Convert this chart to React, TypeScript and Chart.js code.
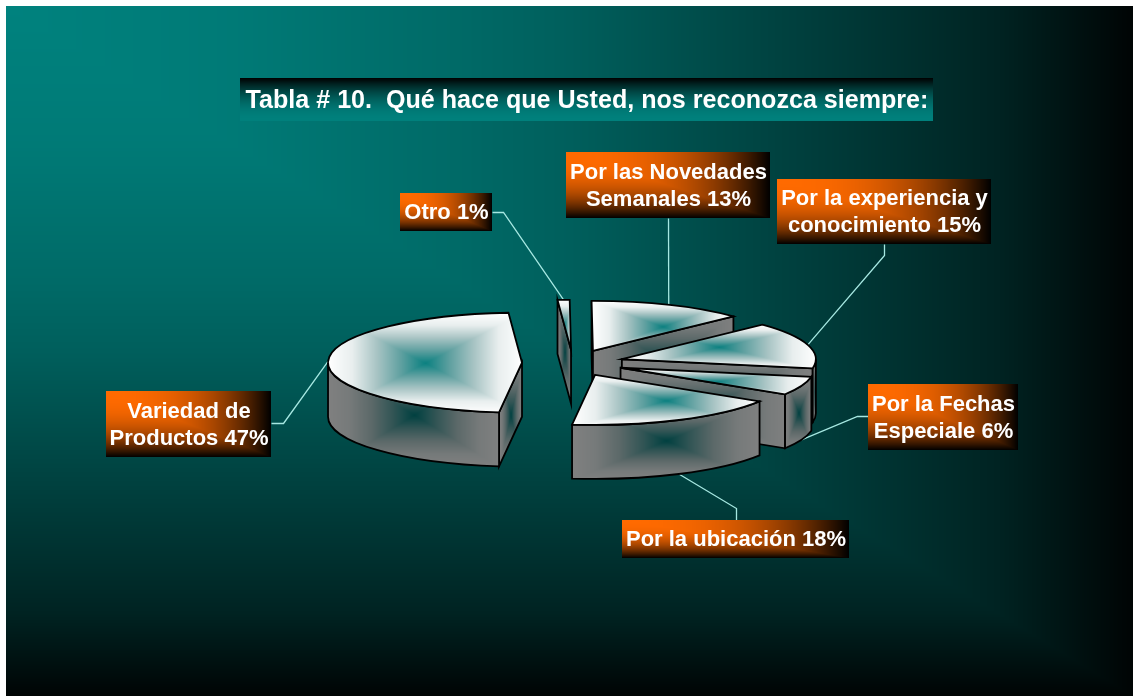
import React, { useEffect, useRef } from "react";
import { Chart, registerables } from "chart.js";

Chart.register(...registerables);

// Survey answers, clockwise from the front edge of the largest slice.
const categoryLines = [
  ["Variedad de", "Productos"],
  ["Otro"],
  ["Por las Novedades", "Semanales"],
  ["Por la experiencia y", "conocimiento"],
  ["Por la Fechas", "Especiale"],
  ["Por la ubicación"],
];
const shares = [47, 1, 13, 15, 6, 18];
const chartTitle = "Tabla # 10.  Qué hace que Usted, nos reconozca siempre:";

// Drawing parameters of the extruded pie.
const WIDTH = 1133;
const HEIGHT = 696;
const FRAME = 6;
const SQUASH = 0.258;
const DEPTH = 54;
const LABEL_FONT = 'bold 22px "Liberation Sans"';
const TITLE_FONT = 'bold 25.1px "Liberation Sans"';

// Callout boxes in canvas pixels: x0, y0, x1, y1, then the leader's attachment and elbow.
const callouts = [
  { box: [106, 391, 271, 457], from: [271, 423], elbow: [283, 423] },
  { box: [400, 193, 492, 231], from: [492, 212], elbow: [503, 212] },
  { box: [566, 152, 770, 218], from: [668, 218], elbow: null },
  { box: [777, 179, 991, 244], from: [884, 244], elbow: [884, 255] },
  { box: [868, 384, 1018, 450], from: [868, 416], elbow: [857, 416] },
  { box: [622, 520, 849, 558], from: [736, 520], elbow: [736, 508] },
];

type RGB = [number, number, number];
const lerp = (a: RGB, b: RGB, t: number) =>
  [0, 1, 2].map((i) => a[i] + (b[i] - a[i]) * t);

// Renders a colour field to an offscreen canvas, pixel by pixel.
function makeField(w: number, h: number, shade: (u: number, v: number) => number[]) {
  const c = document.createElement("canvas");
  c.width = Math.max(1, Math.ceil(w));
  c.height = Math.max(1, Math.ceil(h));
  const g = c.getContext("2d")!;
  const img = g.createImageData(c.width, c.height);
  for (let y = 0; y < c.height; y++) {
    for (let x = 0; x < c.width; x++) {
      const col = shade((x + 0.5) / c.width, (y + 0.5) / c.height);
      const o = (y * c.width + x) * 4;
      img.data[o] = col[0];
      img.data[o + 1] = col[1];
      img.data[o + 2] = col[2];
      img.data[o + 3] = 255;
    }
  }
  g.putImageData(img, 0, 0);
  return c;
}

// Gradient from one corner: full colour at top-left, black along right and bottom.
const cornerFade = (col: RGB, power: number) => (u: number, v: number) => {
  const t = Math.max(u, v);
  return lerp(col, [0, 0, 0], Math.pow(t, power));
};

// Page backdrop ramp: position along the corner fade, then the teal level there.
const BACKDROP_STOPS = [
  [0, 130],
  [0.2, 122],
  [0.4, 106],
  [0.5, 95],
  [0.66, 70],
  [0.8, 48],
  [0.88, 35],
  [0.94, 20],
  [1, 4],
];

function backdropShade(u: number, v: number) {
  const t = Math.max(u, v);
  for (let i = 1; i < BACKDROP_STOPS.length; i++) {
    const [t0, l0] = BACKDROP_STOPS[i - 1];
    const [t1, l1] = BACKDROP_STOPS[i];
    if (t <= t1) {
      const level = l0 + ((l1 - l0) * (t - t0)) / (t1 - t0);
      return [0, level, level * 0.97];
    }
  }
  return [0, 4, 4];
}

// Colour ramps for the box gradients, from the middle of a face to its edge.
const TOP_RAMP: RGB[] = [
  [10, 128, 128],
  [95, 160, 160],
  [168, 196, 196],
  [232, 238, 238],
  [255, 255, 255],
];
const SIDE_RAMP: RGB[] = [
  [0, 64, 64],
  [50, 85, 85],
  [92, 105, 105],
  [118, 122, 122],
  [128, 128, 128],
];

const sampleRamp = (ramp: RGB[], t: number) => {
  const pos = Math.min(0.9999, t) * (ramp.length - 1);
  const i = Math.floor(pos);
  return lerp(ramp[i], ramp[i + 1], pos - i);
};

// Rectangular gradient radiating from the middle of a bounding box.
function boxPattern(ctx: CanvasRenderingContext2D, b: number[], ramp: RGB[]) {
  const [x0, y0, x1, y1] = b;
  const field = makeField(x1 - x0 + 1, y1 - y0 + 1, (u, v) =>
    sampleRamp(ramp, Math.max(Math.abs(u - 0.5), Math.abs(v - 0.5)) * 2)
  );
  const p = ctx.createPattern(field, "no-repeat")!;
  p.setTransform(new DOMMatrix().translate(x0, y0));
  return p;
}

function boundsOf(points: number[][]) {
  const xs = points.map((p) => p[0]);
  const ys = points.map((p) => p[1]);
  return [Math.min(...xs), Math.min(...ys), Math.max(...xs), Math.max(...ys)];
}

// Geometry of an arc element once flattened into the tilted view.
function flatten(arc: any) {
  const mid = (arc.startAngle + arc.endAngle) / 2;
  const shift = (arc.options.offset || 0) / 4;
  const ax = arc.x + Math.cos(mid) * shift;
  const ay = arc.y + Math.sin(mid) * shift * SQUASH;
  const rx = arc.outerRadius;
  const ry = arc.outerRadius * SQUASH;
  const at = (a: number) => [ax + Math.cos(a) * rx, ay + Math.sin(a) * ry];
  return { mid, ax, ay, rx, ry, at, start: arc.startAngle, end: arc.endAngle };
}

function paintFace(
  ctx: CanvasRenderingContext2D,
  trace: () => void,
  bounds: number[],
  ramp: RGB[]
) {
  ctx.beginPath();
  trace();
  ctx.closePath();
  ctx.fillStyle = boxPattern(ctx, bounds, ramp);
  ctx.fill();
  ctx.strokeStyle = "#000";
  ctx.lineWidth = 1.8;
  ctx.lineJoin = "miter";
  ctx.stroke();
}

function drawRadialFace(ctx: CanvasRenderingContext2D, g: any, a: number) {
  const p = g.at(a);
  const pts = [[g.ax, g.ay], p, [p[0], p[1] + DEPTH], [g.ax, g.ay + DEPTH]];
  paintFace(
    ctx,
    () => {
      pts.forEach((q, i) => (i ? ctx.lineTo(q[0], q[1]) : ctx.moveTo(q[0], q[1])));
    },
    boundsOf(pts),
    SIDE_RAMP
  );
}

function drawOuterFace(ctx: CanvasRenderingContext2D, g: any) {
  for (let k = -1; k <= 1; k++) {
    const lo = Math.max(g.start, 2 * Math.PI * k);
    const hi = Math.min(g.end, Math.PI + 2 * Math.PI * k);
    if (hi <= lo) continue;
    const samples: number[][] = [];
    for (let i = 0; i <= 40; i++) {
      const q = g.at(lo + ((hi - lo) * i) / 40);
      samples.push(q, [q[0], q[1] + DEPTH]);
    }
    paintFace(
      ctx,
      () => {
        ctx.ellipse(g.ax, g.ay, g.rx, g.ry, 0, lo, hi, false);
        ctx.ellipse(g.ax, g.ay + DEPTH, g.rx, g.ry, 0, hi, lo, true);
      },
      boundsOf(samples),
      SIDE_RAMP
    );
  }
}

function drawTopFace(ctx: CanvasRenderingContext2D, g: any) {
  const samples: number[][] = [[g.ax, g.ay]];
  for (let i = 0; i <= 60; i++) samples.push(g.at(g.start + ((g.end - g.start) * i) / 60));
  paintFace(
    ctx,
    () => {
      ctx.moveTo(g.ax, g.ay);
      ctx.ellipse(g.ax, g.ay, g.rx, g.ry, 0, g.start, g.end, false);
    },
    boundsOf(samples),
    TOP_RAMP
  );
}

// Replaces the flat arc painting with an extruded slice for every element.
const extrudedPie = {
  id: "extrudedPie",
  beforeDraw(chart: any) {
    const { ctx } = chart;
    ctx.save();
    ctx.fillStyle = "#fff";
    ctx.fillRect(0, 0, WIDTH, HEIGHT);
    ctx.drawImage(makeField(WIDTH - FRAME, HEIGHT - FRAME, backdropShade), FRAME, FRAME);
    ctx.restore();
  },
  beforeDatasetDraw(chart: any, args: any) {
    const { ctx } = chart;
    const arcs = args.meta.data.map(flatten);
    ctx.save();

    // Leader lines run from each callout to the middle of its slice's rim.
    ctx.strokeStyle = "#a6e8e2";
    ctx.lineWidth = 1.3;
    arcs.forEach((g: any, i: number) => {
      const rim = g.at(g.mid);
      const front = Math.sin(g.mid) > 0;
      const { from, elbow } = callouts[i];
      ctx.beginPath();
      ctx.moveTo(from[0] + 0.5, from[1] + 0.5);
      if (elbow) ctx.lineTo(elbow[0] + 0.5, elbow[1] + 0.5);
      ctx.lineTo(rim[0], rim[1] + (front ? DEPTH : 0));
      ctx.stroke();
    });

    // Painter's order: the slices furthest back go first.
    [...arcs]
      .sort((a: any, b: any) => a.ay - b.ay)
      .forEach((g: any) => {
        if (Math.cos(g.start) < 0) drawRadialFace(ctx, g, g.start);
        if (Math.cos(g.end) > 0) drawRadialFace(ctx, g, g.end);
        drawOuterFace(ctx, g);
        drawTopFace(ctx, g);
      });
    ctx.restore();
    return false;
  },
  afterDraw(chart: any) {
    const { ctx } = chart;
    ctx.save();
    ctx.textAlign = "center";
    ctx.textBaseline = "middle";
    ctx.fillStyle = "#fff";

    // Title strip, fading from black at the top into teal.
    const [tx0, ty0, tx1, ty1] = [240, 78, 933, 121];
    const strip = makeField(tx1 - tx0, ty1 - ty0, (_u, v) => {
      const s = 1 - v;
      return lerp([0, 128, 124], [0, 0, 0], s * s);
    });
    ctx.drawImage(strip, tx0, ty0);
    ctx.font = TITLE_FONT;
    ctx.fillStyle = "#fff";
    ctx.fillText(chartTitle, (tx0 + tx1) / 2 + 0.5, 101.5);

    // Callout boxes with their category and share.
    ctx.font = LABEL_FONT;
    callouts.forEach(({ box }, i) => {
      const [x0, y0, x1, y1] = box;
      const w = x1 - x0;
      const h = y1 - y0;
      ctx.drawImage(makeField(w, h, cornerFade([255, 106, 0], 2.5)), x0, y0);
      const lines = [...categoryLines[i]];
      lines[lines.length - 1] += ` ${shares[i]}%`;
      const step = 27;
      const cy = (y0 + y1) / 2 + 1 - ((lines.length - 1) * step) / 2;
      lines.forEach((text, j) => {
        ctx.fillText(text, (x0 + x1) / 2 + 0.5, cy + j * step);
      });
    });
    ctx.restore();
  },
};

export default function App() {
  const ref = useRef<HTMLCanvasElement>(null);

  useEffect(() => {
    const chart = new Chart(ref.current!, {
      type: "pie",
      data: {
        labels: categoryLines.map((l) => l.join(" ")),
        datasets: [
          {
            data: shares,
            radius: 194,
            offset: 204,
            borderWidth: 0,
          } as any,
        ],
      },
      options: {
        responsive: false,
        maintainAspectRatio: false,
        animation: false,
        rotation: 186.8,
        events: [],
        layout: { padding: { left: 13, top: 30 } },
        plugins: { legend: { display: false }, tooltip: { enabled: false } },
      },
      plugins: [extrudedPie],
    });
    return () => chart.destroy();
  }, []);

  return (
    <div style={{ position: "fixed", left: 0, top: 0, width: WIDTH, height: HEIGHT }}>
      <canvas ref={ref} width={WIDTH} height={HEIGHT} style={{ display: "block" }} />
    </div>
  );
}
